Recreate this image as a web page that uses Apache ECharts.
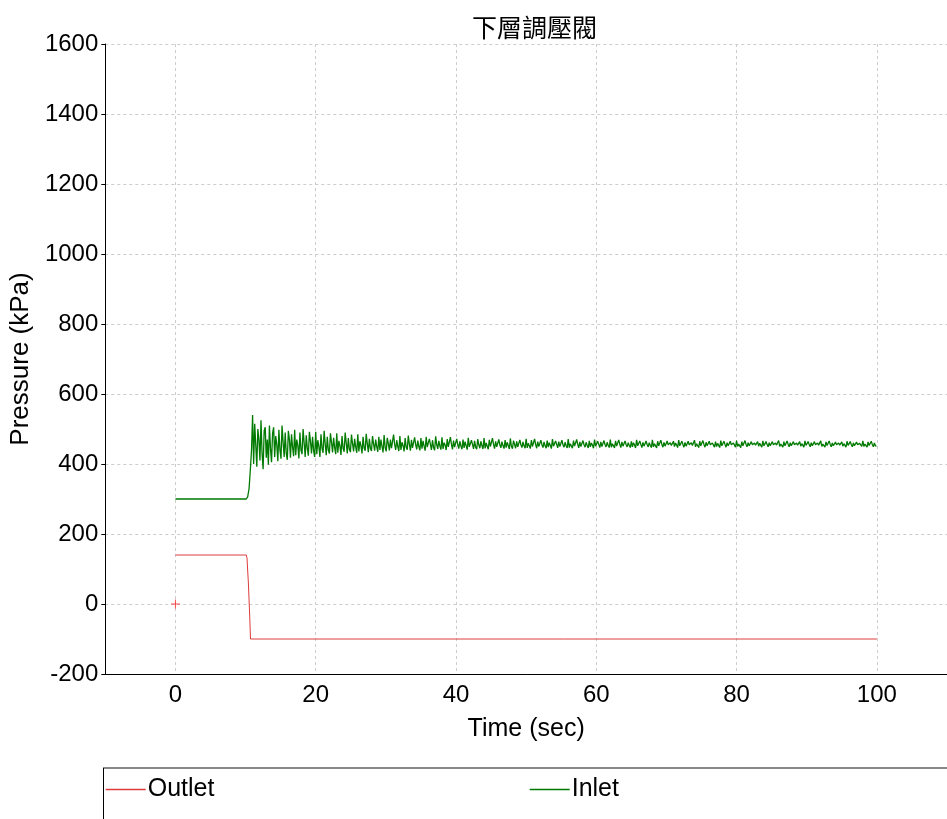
<!DOCTYPE html>
<html>
<head>
<meta charset="utf-8">
<script src="https://cdn.jsdelivr.net/npm/echarts@6/dist/echarts.min.js"></script>
<style>html,body{margin:0;padding:0;background:#fff;}#c{width:947px;height:819px;}</style>
</head>
<body>
<div id="c"></div>
<script>
// ---- data ----
var titleText = '下層調壓閥';
var xName = 'Time (sec)';
var yName = 'Pressure (kPa)';

var outletData = [[0,140],[10.1,140],[10.2,132],[10.4,60],[10.6,-40],[10.7,-100],[100,-100]];

var inletRise = [[0,300],[10.1,300],[10.3,306],[10.5,330],[10.7,390],[10.85,440]];
var inletOscStart = 11.0;
var inletOscStep = 0.15;
var inletOsc = [
  540,400,515,455,392,500,470,410,525,430,385,495,505,418,470,398,510,445,405,488,
  505,420,480,455,408,498,440,415,510,462,420,490,430,412,495,470,418,485,448,422,
  498,425,470,452,416,490,440,428,500,460,420,482,445,424,492,465,430,478,438,420,
  492,428,468,450,420,485,445,432,495,458,425,478,440,430,488,462,433,475,447,428,
  488,432,466,452,426,480,445,435,490,460,430,474,442,434,484,458,436,472,448,432,
  485,436,465,452,430,478,446,438,486,458,434,472,444,437,480,457,438,470,449,435,
  478,440,470,450,433,483,447,436,475,458,439,470,445,442,484,456,440,468,450,437,
  480,440,462,453,436,474,448,441,481,457,438,469,446,441,476,455,442,467,450,439,
  474,444,466,451,438,478,448,443,472,456,440,468,447,439,479,455,443,466,451,441,
  476,443,461,454,440,471,449,444,477,456,442,467,448,444,472,455,444,465,451,442,
  470,446,464,452,441,475,449,445,468,456,443,466,448,442,471,455,445,465,452,443,
  474,445,460,455,442,469,450,446,474,456,444,465,449,446,470,455,446,464,452,444,
  468,447,462,453,443,473,450,444,467,456,445,465,449,447,469,455,447,463,452,445,
  472,446,459,455,444,468,450,447,472,456,445,464,450,447,468,455,447,463,452,445,
  467,448,461,453,444,471,451,446,466,456,446,464,450,448,468,455,448,462,452,446,
  471,447,458,455,445,467,451,448,470,456,446,463,450,448,467,455,448,462,453,446,
  466,449,460,454,445,470,451,447,465,456,447,463,450,449,467,455,449,462,453,447,
  470,448,458,455,446,466,451,449,469,456,447,463,451,449,466,455,449,461,453,447,
  465,449,461,454,446,469,452,448,466,456,447,462,451,447,466,455,449,461,453,447,
  469,449,458,455,446,465,452,450,468,456,448,462,451,450,466,455,450,461,453,448,
  465,450,460,454,447,468,452,448,465,456,448,462,451,449,465,455,450,461,453,448,
  468,449,458,455,447,465,452,450,467,456,448,462,452,450,465,455,450,460,454,448,
  464,450,459,454,447,467,452,449,465,456,448,461,452,448,465,455,450,460,454,448,
  467,450,457,455,447,464,452,450,467,456,449,461,452,450,464,455,450,460,454,449,
  464,451,459,454,448,466,452,449,464,456,449,461,452,450,464,455,451,460,454,449,
  467,450,457,455,448,464,452,451,466,456,449,461,452,451,464,455,451,460,454,449,
  464,451,458,454,448,466,453,449,464,456,449,461,452,449,464,455,451,460,454,449,
  466,450,457,455,448,463,453,451,466,456,449,460,452,451,463,455,451,460,454,449,
  463,451,458,454,448,465,453,450,464,456,449,460,452,450,463,455,451,459,454,450,
  466,450,457,455,448,463,453,451,465,456,449,460,452,451
];
var markerData = [[0,0]];

// ---- build ----
var inletData = inletRise.slice();
for (var i = 0; i < inletOsc.length; i++) {
  inletData.push([+(inletOscStart + i * inletOscStep).toFixed(2), inletOsc[i]]);
}

var red = '#dd3c3c', green = '#007a00';
var chart = echarts.init(document.getElementById('c'), null, {renderer: 'canvas'});
var font = 'Liberation Sans, Arial, sans-serif';
function legendFor(name, color, left) {
  return {
    data: [{name: name, itemStyle: {opacity: 0}, lineStyle: {color: color, width: 1.4, opacity: 1}}],
    left: left, top: 777, padding: 0,
    itemWidth: 40, itemHeight: 13,
    textStyle: {fontFamily: font, fontSize: 25, color: '#000', padding: [0,0,0,-3]}
  };
}
chart.setOption({
  animation: false,
  backgroundColor: '#ffffff',
  title: {
    text: titleText, left: 467, top: 10,
    textStyle: {fontFamily: 'Noto Sans CJK TC, sans-serif', fontSize: 25, fontWeight: 'normal', color: '#000'}
  },
  grid: {left: 103, right: -10, top: 44, bottom: 145, containLabel: false},
  legend: [legendFor('Outlet', red, 105), legendFor('Inlet', green, 529)],
  xAxis: {
    type: 'value', min: -10, max: 110, splitNumber: 6,
    name: xName, nameLocation: 'middle', nameGap: 43,
    nameTextStyle: {fontFamily: font, fontSize: 25, color: '#000'},
    axisLine: {show: true, onZero: false, lineStyle: {color: '#000', width: 1}},
    axisTick: {show: false},
    axisLabel: {fontFamily: font, fontSize: 24, color: '#000', margin: 9, showMinLabel: false, showMaxLabel: false},
    splitLine: {show: true, lineStyle: {color: '#cccccc', type: [3,3], width: 1}}
  },
  yAxis: {
    type: 'value', min: -200, max: 1600, interval: 200,
    name: yName, nameLocation: 'middle', nameGap: 67, nameRotate: 90,
    nameTextStyle: {fontFamily: font, fontSize: 26, color: '#000'},
    axisLine: {show: true, onZero: false, lineStyle: {color: '#000', width: 1}},
    axisTick: {show: true, length: 4, lineStyle: {color: '#000'}},
    axisLabel: {fontFamily: font, fontSize: 24, color: '#000', margin: 7,
      formatter: function (v) { return String(v); }},
    splitLine: {show: true, lineStyle: {color: '#cccccc', type: [3,3], width: 1}}
  },
  series: [
    {name: 'Outlet', type: 'line', data: outletData, symbol: 'none', showSymbol: false,
     color: red, itemStyle: {color: red}, lineStyle: {width: 1, color: red}, z: 3},
    {name: 'Inlet', type: 'line', data: inletData, symbol: 'none', showSymbol: false,
     color: green, itemStyle: {color: green}, lineStyle: {width: 1.3, color: green}, z: 2},
    {name: 'marker', type: 'scatter', data: markerData,
     symbol: 'path://M4,0H5V9H4Z M0,4H9V5H0Z', symbolSize: 9,
     itemStyle: {color: '#ff2020'}, z: 4}
  ],
  graphic: [
    {type: 'line', shape: {x1: 103, y1: 768, x2: 947, y2: 768}, style: {stroke: '#888', lineWidth: 2}},
    {type: 'line', shape: {x1: 103.5, y1: 768, x2: 103.5, y2: 819}, style: {stroke: '#000', lineWidth: 1}}
  ]
});
</script>
</body>
</html>
